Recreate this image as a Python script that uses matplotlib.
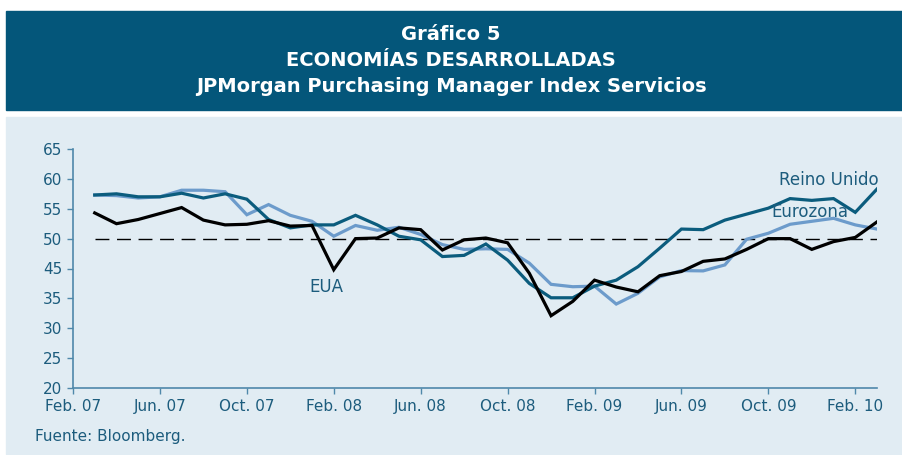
import matplotlib
matplotlib.use("Agg")
import matplotlib.pyplot as plt
from matplotlib.patches import Rectangle
import numpy as np

plt.rcParams['font.family'] = ['Liberation Sans Narrow', 'DejaVu Sans']

# Datos (meses desde Feb. 07; primer dato = Mar. 07)
meses = np.arange(1, 38)
eua = [54.3, 52.5, 53.2, 54.2, 55.2, 53.1, 52.3, 52.4, 53.0, 52.1, 52.2, 44.6,
       50.0, 50.1, 51.8, 51.5, 48.1, 49.8, 50.1, 49.3, 43.4, 32.1, 34.5, 41.1,
       38.8, 37.2, 42.6, 44.0, 46.2, 46.6, 48.2, 50.0, 50.0, 48.2, 49.5, 50.2, 52.8]
reino_unido = [57.3, 57.5, 57.0, 57.0, 57.6, 56.8, 57.5, 56.6, 53.2, 51.8, 52.3, 52.3,
               53.9, 52.3, 50.4, 49.8, 47.0, 47.2, 49.1, 46.4, 40.0, 35.2, 35.2, 39.1,
               41.1, 45.3, 48.4, 51.6, 51.5, 53.1, 54.1, 55.1, 56.7, 56.4, 56.7, 54.4, 58.3]
eurozona = [57.3, 57.2, 56.8, 57.0, 58.1, 58.1, 57.85, 54.0, 55.7, 53.9, 52.9, 50.4,
            52.2, 51.4, 51.9, 50.7, 49.0, 48.2, 48.3, 48.2, 45.9, 39.7, 38.9, 39.1,
            34.05, 36.7, 42.2, 44.3, 44.2, 45.6, 49.9, 50.9, 52.4, 52.9, 53.4, 52.3, 51.6]

tick_pos = [0, 4, 8, 12, 16, 20, 24, 28, 32, 36]
tick_lab = ["Feb. 07", "Jun. 07", "Oct. 07", "Feb. 08", "Jun. 08",
            "Oct. 08", "Feb. 09", "Jun. 09", "Oct. 09", "Feb. 10"]
y_ticks = [20, 25, 30, 35, 45, 50, 55, 60, 65]

azul_osc = "#0b5c7d"
azul_cla = "#6c9bcb"
texto = "#1c5c7d"
fondo = "#e1ecf3"


# el eje original salta de 35 a 45 con el mismo espaciado
def fwd(v):
    v = np.asarray(v, dtype=float)
    return np.where(v <= 35, v, np.where(v >= 45, v - 5, 35 + (v - 35) / 2))


def inv(p):
    p = np.asarray(p, dtype=float)
    return np.where(p <= 35, p, np.where(p >= 40, p + 5, 35 + 2 * (p - 35)))


fig = plt.figure(figsize=(9.02, 4.55), dpi=100)
fig.patches.append(Rectangle((6 / 902, (455 - 110) / 455), 1, 99 / 455,
                             transform=fig.transFigure, color="#04567a", zorder=-5))
fig.patches.append(Rectangle((6 / 902, 1 / 455), 1, (454 - 117) / 455,
                             transform=fig.transFigure, color=fondo, zorder=-5))

fig.text(0.5, (455 - 35) / 455, "Gráfico 5", ha="center", va="center",
         color="white", fontsize=14, fontweight="bold")
fig.text(0.5, (455 - 61) / 455, "ECONOMÍAS DESARROLLADAS", ha="center", va="center",
         color="white", fontsize=14, fontweight="bold")
fig.text(0.5, (455 - 87) / 455, "JPMorgan Purchasing Manager Index Servicios",
         ha="center", va="center", color="white", fontsize=14, fontweight="bold")

ax = fig.add_axes([73 / 902, (455 - 388) / 455, (877 - 73) / 902, (388 - 149) / 455])
ax.set_zorder(2)
ax.set_facecolor(fondo)
ax.set_yscale("function", functions=(fwd, inv))

ax.plot([1, 37], [50, 50], color="black", lw=1, dashes=(10, 5.5))
ax.plot(meses, eurozona, color=azul_cla, lw=2.3, solid_joinstyle="miter")
ax.plot(meses, reino_unido, color=azul_osc, lw=2.3, solid_joinstyle="miter")
ax.plot(meses, eua, color="black", lw=2.3, solid_joinstyle="miter")

ax.set_xlim(0, 37)
ax.set_ylim(20, 65)
ax.set_yticks(y_ticks)
ax.set_yticklabels([str(t) for t in y_ticks])
ax.set_xticks(tick_pos)
ax.set_xticklabels(tick_lab)
ax.yaxis.set_minor_locator(matplotlib.ticker.NullLocator())

for s in ["top", "right"]:
    ax.spines[s].set_visible(False)
for s in ["left", "bottom"]:
    ax.spines[s].set_color("#4f88aa")
    ax.spines[s].set_linewidth(1.2)
ax.tick_params(colors="#4f88aa", labelcolor=texto, labelsize=11, length=4, width=1)
ax.tick_params(axis="x", pad=4)

ax.text(11.66, 38.8, "EUA", color=texto, fontsize=12, ha="center", va="center")
ax.text(34.76, 59.8, "Reino Unido", color=texto, fontsize=12, ha="center", va="center")
ax.text(33.9, 54.5, "Eurozona", color=texto, fontsize=12, ha="center", va="center")

fig.text(35 / 902, (455 - 437) / 455, "Fuente: Bloomberg.", color=texto,
         fontsize=11, ha="left", va="center")

fig.savefig("out.png", dpi=100)
